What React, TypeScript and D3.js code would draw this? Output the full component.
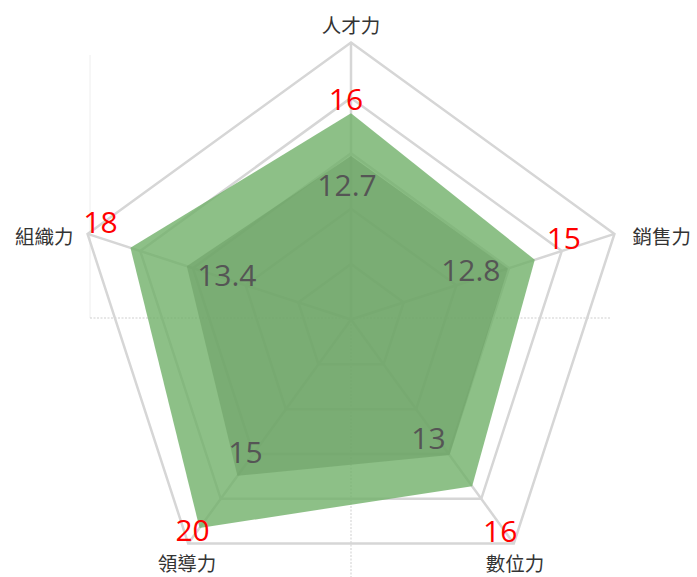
import { useRef, useEffect } from 'react';
import * as d3 from 'd3';

const axes = ['人才力', '銷售力', '數位力', '領導力', '組織力'];
const outerValues = [16, 15, 16, 20, 18];
const innerValues = [12.7, 12.8, 13, 15, 13.4];
const gridLevels = [1, 2, 3, 4, 5];

// label nudges (px) relative to each vertex, per axis
const outerLabelNudge: [number, number][] = [[-5, -15], [29, -22], [28, 44], [-7, 2], [-30, -26]];
const innerLabelNudge: [number, number][] = [[-4, 29], [-37, 1], [-21, -18], [8, -24], [40, 8]];

export default function App() {
    const svgRef = useRef<SVGSVGElement>(null);

    useEffect(() => {
        if (!svgRef.current) return;
        const width = 697;
        const height = 577;
        const cx = 351;
        const cy = 319.5;
        const R = 277;

        const svg = d3.select(svgRef.current);
        svg.selectAll('*').remove();
        svg.attr('width', width).attr('height', height);

        const rScale = d3.scaleLinear().domain([0, 21.5]).range([0, R]);
        const angle = d3.scaleLinear().domain([0, axes.length]).range([-Math.PI / 2, Math.PI * 1.5]);
        const pt = (i: number, r: number): [number, number] => [cx + r * Math.cos(angle(i)), cy + r * Math.sin(angle(i))];

        const numFont = '"Open Sans", "Noto Sans", sans-serif';
        const cjkFont = '"Noto Sans CJK TC", "Noto Sans CJK SC", sans-serif';

        // faint frame + dotted crosshair
        svg.append('line')
            .attr('x1', 90).attr('x2', 90).attr('y1', 55).attr('y2', 318)
            .attr('stroke', '#eeeeee').attr('stroke-width', 1);
        svg.append('line')
            .attr('x1', 90).attr('x2', 610).attr('y1', 318).attr('y2', 318)
            .attr('stroke', '#cfcfcf').attr('stroke-width', 1).attr('stroke-dasharray', '2,1.5');
        svg.append('line')
            .attr('x1', cx).attr('x2', cx).attr('y1', 58).attr('y2', height)
            .attr('stroke', '#cfcfcf').attr('stroke-width', 1).attr('stroke-dasharray', '2,1.5');

        const line = d3.line<[number, number]>().curve(d3.curveLinearClosed);

        // grid
        const grid = svg.append('g');
        gridLevels.forEach(l => {
            const r = (R * l) / gridLevels.length;
            grid.append('path')
                .attr('d', line(axes.map((_, i) => pt(i, r))))
                .attr('fill', 'none')
                .attr('stroke', '#d6d6d6')
                .attr('stroke-width', 2.5);
        });
        axes.forEach((_, i) => {
            const [x, y] = pt(i, R);
            grid.append('line')
                .attr('x1', cx).attr('y1', cy).attr('x2', x).attr('y2', y)
                .attr('stroke', '#d6d6d6')
                .attr('stroke-width', 2.5);
        });

        // series
        const fills = ['rgb(112,176,105)', 'rgb(110,160,104)'];
        const opacities = [0.8, 0.6];
        [outerValues, innerValues].forEach((vals, k) => {
            svg.append('path')
                .attr('d', line(vals.map((v, i) => pt(i, rScale(v)))))
                .attr('fill', fills[k])
                .attr('fill-opacity', opacities[k]);
        });

        // axis labels
        axes.forEach((name, i) => {
            const [x, y] = pt(i, R);
            const c = Math.cos(angle(i));
            const s = Math.sin(angle(i));
            const side = Math.abs(c) > 0.7;
            svg.append('text')
                .attr('x', side ? x + (c > 0 ? 18 : -14) : x + c * 2)
                .attr('y', side ? y + 2 : y + (s < 0 ? -18 : 19))
                .attr('text-anchor', side ? (c > 0 ? 'start' : 'end') : 'middle')
                .attr('dominant-baseline', 'central')
                .attr('font-family', cjkFont)
                .attr('font-size', '19.5px')
                .attr('fill', '#333333')
                .text(name);
        });

        // value labels
        outerValues.forEach((v, i) => {
            const [x, y] = pt(i, rScale(v));
            svg.append('text')
                .attr('x', x + outerLabelNudge[i][0])
                .attr('y', y + outerLabelNudge[i][1])
                .attr('text-anchor', 'middle')
                .attr('dominant-baseline', 'central')
                .attr('font-family', numFont)
                .attr('font-size', '30px')
                .attr('fill', '#ff0000')
                .text(v);
        });
        innerValues.forEach((v, i) => {
            const [x, y] = pt(i, rScale(v));
            svg.append('text')
                .attr('x', x + innerLabelNudge[i][0])
                .attr('y', y + innerLabelNudge[i][1])
                .attr('text-anchor', 'middle')
                .attr('dominant-baseline', 'central')
                .attr('font-family', numFont)
                .attr('font-size', '30px')
                .attr('fill', '#555555')
                .text(v);
        });
    }, []);

    return (
        <div style={{ position: 'absolute', left: 0, top: 0, background: '#fff' }}>
            <svg ref={svgRef} style={{ display: 'block' }} />
        </div>
    );
}
